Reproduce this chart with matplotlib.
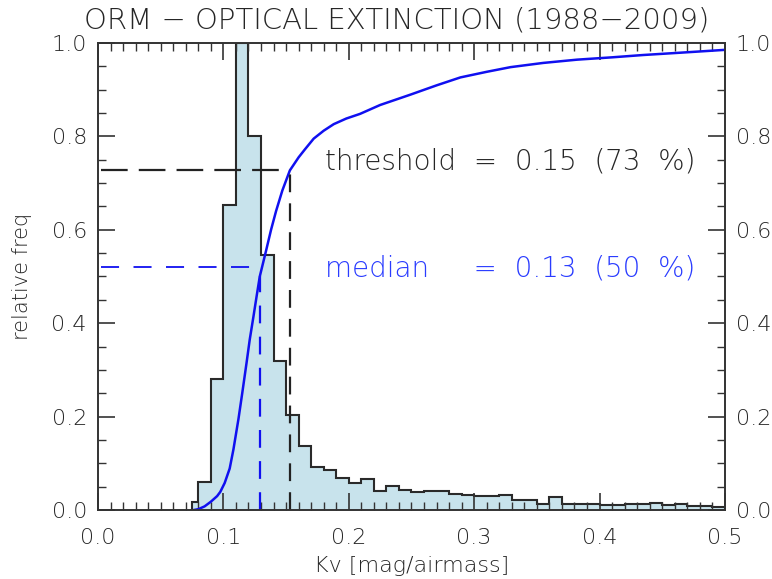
import numpy as np
import matplotlib.pyplot as plt
from matplotlib.ticker import MultipleLocator

# histogram: bin edges (Kv) and relative frequency per bin
bin_edges = [0.075] + [round(0.08 + 0.01 * i, 2) for i in range(43)]
rel_freq = [0.018, 0.060, 0.281, 0.652, 1.000, 0.800, 0.547, 0.319, 0.203,
            0.138, 0.092, 0.086, 0.069, 0.057, 0.067, 0.041, 0.052, 0.043,
            0.039, 0.040, 0.041, 0.034, 0.032, 0.030, 0.030, 0.032, 0.022,
            0.021, 0.013, 0.028, 0.013, 0.013, 0.013, 0.011, 0.010, 0.012,
            0.012, 0.015, 0.011, 0.012, 0.009, 0.009, 0.007]

# cumulative distribution
cum_kv = [0.076, 0.080, 0.085, 0.090, 0.095, 0.0975, 0.101, 0.105, 0.108,
          0.112, 0.115, 0.1185, 0.121, 0.124, 0.1265, 0.129, 0.134, 0.138,
          0.142, 0.147, 0.153, 0.160, 0.165, 0.172, 0.180, 0.188, 0.198,
          0.209, 0.225, 0.249, 0.270, 0.289, 0.310, 0.329, 0.355, 0.382,
          0.410, 0.435, 0.465, 0.500]
cum_frac = [0.000, 0.002, 0.008, 0.018, 0.030, 0.039, 0.058, 0.089, 0.130,
            0.195, 0.250, 0.316, 0.365, 0.415, 0.458, 0.500, 0.555, 0.600,
            0.640, 0.684, 0.727, 0.755, 0.772, 0.795, 0.812, 0.826, 0.838,
            0.848, 0.867, 0.889, 0.909, 0.926, 0.938, 0.948, 0.957, 0.964,
            0.969, 0.974, 0.979, 0.985]

threshold, thr_pct = 0.153, 0.727
median, med_pct = 0.129, 0.521

txt = '#262626'
blue = '#1010f0'
plt.rcParams['font.family'] = ['DejaVu Sans']
plt.rcParams['font.weight'] = 'light'
plt.rcParams['axes.labelweight'] = 'light'

fig = plt.figure(figsize=(7.72, 5.79), dpi=100)
ax = fig.add_axes([0.127, 0.119, 0.812, 0.807])

ax.stairs(rel_freq, bin_edges, fill=True, color='#c8e3ec')
ax.stairs(rel_freq, bin_edges, color='#2a2a2a', lw=1.5)

ax.plot(cum_kv, cum_frac, color=blue, lw=1.8)

ax.plot([0.002, threshold], [thr_pct, thr_pct], color='#222222', lw=1.6,
        linestyle=(0, (12, 5)))
ax.plot([threshold, threshold], [0, thr_pct], color='#222222', lw=1.6,
        linestyle=(0, (8, 5)))
ax.plot([0.002, median - 0.005], [med_pct, med_pct], color=blue, lw=1.3,
        linestyle=(0, (10, 8)))
ax.plot([median, median], [0, 0.5], color=blue, lw=1.6,
        linestyle=(0, (8, 6)))

ax.text(0.181, 0.745, 'threshold  =  0.15  (73  %)', color=txt, fontsize=20,
        va='center', ha='left')
ax.text(0.181, 0.518, 'median     =  0.13  (50  %)', color='#2a3cff',
        fontsize=20, va='center', ha='left')

ax.set_xlim(0, 0.5)
ax.set_ylim(0, 1.0)
ax.xaxis.set_major_locator(MultipleLocator(0.1))
ax.xaxis.set_minor_locator(MultipleLocator(0.01))
ax.yaxis.set_major_locator(MultipleLocator(0.2))
ax.yaxis.set_minor_locator(MultipleLocator(0.05))
ax.tick_params(which='both', direction='in', top=True, right=True,
               labelright=True, colors='#333333', labelcolor=txt, labelsize=16)
ax.tick_params(axis='x', which='major', length=12, width=1.2, pad=13)
ax.tick_params(axis='y', which='major', length=12, width=1.2, pad=8)
ax.tick_params(which='minor', length=6, width=1.0)
ax.xaxis.set_major_formatter(plt.FormatStrFormatter('%.1f'))
ax.yaxis.set_major_formatter(plt.FormatStrFormatter('%.1f'))
for s in ax.spines.values():
    s.set_linewidth(1.4)
    s.set_color('#333333')

ax.set_xlabel('Kv [mag/airmass]', color=txt, fontsize=16, labelpad=6)
ax.set_ylabel('relative freq', color=txt, fontsize=15, labelpad=14)
fig.text(397 / 772, 1 - 21 / 579, 'ORM \u2212 OPTICAL EXTINCTION (1988\u22122009)',
         color=txt, fontsize=21, ha='center', va='center')

fig.savefig('out.png', dpi=100)
